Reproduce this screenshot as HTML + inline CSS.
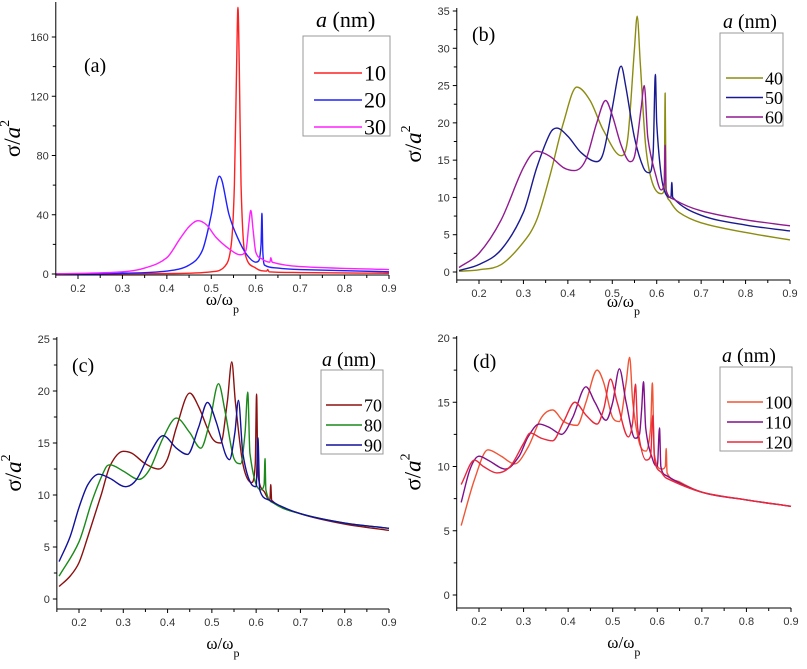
<!DOCTYPE html>
<html><head><meta charset="utf-8"><style>
html,body{margin:0;padding:0;background:#fff;}
svg{display:block;font-family:"Liberation Sans",sans-serif;}
.tk{font-size:11px;fill:#333;}
.ser{font-family:"Liberation Serif",serif;}
</style></head><body>
<svg id="fig" width="807" height="669" viewBox="0 0 807 669" xmlns="http://www.w3.org/2000/svg"></svg>
<script>
const xTickLabels=["0.2","0.3","0.4","0.5","0.6","0.7","0.8","0.9"];
const xTickValues=[0.2,0.3,0.4,0.5,0.6,0.7,0.8,0.9];
const yTicksA=[0,40,80,120,160];
const yTicksB=[0,5,10,15,20,25,30,35];
const yTicksC=[0,5,10,15,20,25];
const yTicksD=[0,5,10,15,20];
const labelsA=["10","20","30"];
const labelsB=["40","50","60"];
const labelsC=["70","80","90"];
const labelsD=["100","110","120"];
// panel a
const xa10=[0.15,0.4,0.5,0.53,0.545,0.552,0.557,0.56,0.563,0.567,0.575,0.6,0.625,0.627,0.63,0.7,0.9];
const ya10=[0,0.3,1.5,5,20,60,140,180,140,60,15,4,2,3,1.5,1,0.5];
const xa20=[0.15,0.3,0.4,0.45,0.48,0.5,0.51,0.518,0.525,0.54,0.56,0.58,0.6,0.607,0.612,0.614,0.616,0.62,0.65,0.7,0.9];
const ya20=[0,0.5,2,6,16,40,58,66,62,40,24,13,8,9,20,41,15,6,4,3,1.5];
const xa30=[0.15,0.3,0.35,0.4,0.43,0.45,0.47,0.49,0.51,0.54,0.565,0.578,0.585,0.589,0.594,0.6,0.615,0.632,0.634,0.637,0.7,0.9];
const ya30=[0,1.5,4,11,24,32,36,33,25,17,13,16,35,43,30,15,10,8,11,8,5,3];
// panel b
const xb40=[0.155,0.2,0.25,0.3,0.33,0.36,0.39,0.42,0.45,0.48,0.52,0.535,0.55,0.556,0.563,0.575,0.59,0.61,0.617,0.619,0.621,0.63,0.65,0.7,0.8,0.9];
const yb40=[0.1,0.3,1,4,7,13,20,24.8,23,19,15.6,18,30,34.3,28,17,12,10.5,11,24,11,9.5,8,6.6,5.3,4.3];
const xb50=[0.155,0.2,0.25,0.3,0.33,0.36,0.375,0.4,0.43,0.465,0.48,0.5,0.515,0.52,0.53,0.55,0.57,0.583,0.592,0.597,0.6,0.61,0.62,0.632,0.634,0.636,0.7,0.8,0.9];
const yb50=[0.2,1,3,8,14,18.6,19.3,18.2,16,14.8,16,22,27,27.6,25,18,14,13.3,16,26.5,20,13,10.5,10,12,10,7.6,6.3,5.5];
const xb60=[0.155,0.2,0.25,0.3,0.33,0.36,0.39,0.415,0.44,0.465,0.485,0.5,0.52,0.54,0.55,0.565,0.572,0.58,0.6,0.61,0.617,0.619,0.621,0.64,0.7,0.8,0.9];
const yb60=[0.6,2.5,7,14,16.2,15.5,14,13.6,15,20,23,21,17,14.8,15.5,22,25,18,12.5,11,12,17,11,9.7,8.2,7,6.2];
// panel c
const xc70=[0.155,0.18,0.2,0.22,0.25,0.27,0.3,0.32,0.35,0.38,0.4,0.42,0.45,0.47,0.5,0.52,0.535,0.545,0.553,0.57,0.59,0.598,0.601,0.604,0.62,0.631,0.633,0.635,0.7,0.8,0.9];
const yc70=[1.2,2.2,3.5,6,10,12.8,14.2,14,13,12.5,13.5,16.5,19.8,18.5,15.5,15,19,22.8,19,13,11.2,13,19.7,12,10.2,9.5,11,9.5,8.2,7.2,6.6];
const xc80=[0.155,0.2,0.23,0.26,0.27,0.3,0.335,0.36,0.39,0.42,0.45,0.475,0.495,0.515,0.53,0.55,0.565,0.575,0.581,0.586,0.61,0.618,0.62,0.622,0.64,0.7,0.8,0.9];
const yc80=[2.2,5.5,9.5,12.6,12.9,12.3,11.5,12.5,15.5,17.4,16,14.5,17,20.7,18,13.5,13,16,19.9,14,10.5,11,13.5,10.5,9.2,8.2,7.3,6.8];
const xc90=[0.155,0.18,0.2,0.22,0.245,0.27,0.305,0.33,0.36,0.39,0.42,0.445,0.47,0.49,0.51,0.53,0.54,0.552,0.56,0.57,0.59,0.6,0.604,0.608,0.63,0.7,0.8,0.9];
const yc90=[3.6,6,8.8,11,12,11.6,10.8,11.5,14,15.7,14.5,13.9,16.5,18.9,17,14,13.4,16,19.1,14,11,10.8,15.5,10.5,9.5,8.2,7.3,6.8];
// panel d
const xd100=[0.16,0.19,0.22,0.25,0.28,0.31,0.34,0.365,0.39,0.42,0.44,0.465,0.48,0.5,0.515,0.53,0.538,0.545,0.56,0.575,0.585,0.589,0.593,0.61,0.618,0.62,0.622,0.65,0.7,0.8,0.9];
const yd100=[5.4,9,11.3,10.8,10.2,11.5,13.8,14.4,13.5,13.2,15,17.5,16.5,13.8,13.5,16.5,18.5,15,11.8,11.2,13,16.5,11,9.8,10,11.4,9.5,8.8,8,7.4,6.9];
const xd110=[0.16,0.18,0.2,0.22,0.26,0.29,0.31,0.335,0.36,0.385,0.41,0.44,0.46,0.485,0.5,0.515,0.53,0.55,0.56,0.565,0.569,0.574,0.59,0.6,0.605,0.608,0.62,0.7,0.8,0.9];
const yd110=[7.2,9.8,10.8,10.5,9.8,10.8,12.3,13.3,13,12.5,13.8,16.2,15,13.6,15,17.6,15,12.2,12.5,14.5,16.6,13,10.5,10,13,10,9.3,8,7.4,6.9];
const xd120=[0.16,0.19,0.21,0.24,0.27,0.3,0.315,0.34,0.365,0.39,0.415,0.44,0.465,0.48,0.495,0.51,0.535,0.545,0.551,0.556,0.575,0.585,0.59,0.594,0.61,0.62,0.7,0.8,0.9];
const yd120=[8.6,10.5,10,9.5,10,11.8,12.6,12.2,12,13.5,15,14,13.3,14.5,16.8,15,12.3,13.5,16.4,13,10.5,10.8,14,10.5,9.5,9.1,8,7.4,6.9];

const NS="http://www.w3.org/2000/svg";
const svg=document.getElementById('fig');
function mk(tag,attrs,parent){const e=document.createElementNS(NS,tag);for(const k in attrs)e.setAttribute(k,attrs[k]);(parent||svg).appendChild(e);return e;}
function smoothPath(px,py){
  const n=px.length;if(n<2)return '';
  const d=[],m=new Array(n);
  for(let i=0;i<n-1;i++)d.push((py[i+1]-py[i])/(px[i+1]-px[i]));
  m[0]=d[0];m[n-1]=d[n-2];
  for(let i=1;i<n-1;i++){
    if(d[i-1]*d[i]<=0){m[i]=0;continue;}
    let s=(py[i+1]-py[i-1])/(px[i+1]-px[i-1]);
    const lim=3*Math.min(Math.abs(d[i-1]),Math.abs(d[i]));
    if(Math.abs(s)>lim)s=Math.sign(s)*lim;
    m[i]=s;
  }
  let p='M'+px[0].toFixed(2)+','+py[0].toFixed(2);
  for(let i=0;i<n-1;i++){const h=(px[i+1]-px[i])/3;p+=' C'+(px[i]+h).toFixed(2)+','+(py[i]+m[i]*h).toFixed(2)+' '+(px[i+1]-h).toFixed(2)+','+(py[i+1]-m[i+1]*h).toFixed(2)+' '+px[i+1].toFixed(2)+','+py[i+1].toFixed(2);}
  return p;
}
function panel(cfg){
  const g=mk('g',{});
  
  
  const sx=v=>cfg.x02+(v-0.2)*(cfg.x09-cfg.x02)/0.7;
  const sy=v=>cfg.y0+(v-0)*(cfg.yt-cfg.y0)/(cfg.yTicks[cfg.yTicks.length-1]);
  const left=sx(0.15);
  cfg.series.forEach((s,i)=>{
    const px=s.x.map(sx),py=s.y.map(v=>Math.max(cfg.top,sy(v)));
    const p=mk('path',{d:smoothPath(px,py),fill:'none',stroke:s.c,'stroke-width':1.4,'stroke-linejoin':'round'},g);
    
    
  });
  const ax=mk('g',{stroke:'#000','stroke-width':1},g);
  
  
  mk('line',{x1:left,y1:cfg.top,x2:left,y2:cfg.bot},ax);
  mk('line',{x1:left,y1:cfg.bot,x2:sx(0.9),y2:cfg.bot},ax);
  for(let v=0.15;v<=0.901;v+=0.05){const major=Math.abs(v*10-Math.round(v*10))<0.01;mk('line',{x1:sx(v),y1:cfg.bot,x2:sx(v),y2:cfg.bot+(major?4:3)},ax);}
  const yt=cfg.yTicks,step=yt[1]-yt[0];
  for(let v=0;v<=yt[yt.length-1]+1e-9;v+=step/2){const major=Math.abs(v/step-Math.round(v/step))<0.01;mk('line',{x1:left,y1:sy(v),x2:left-(major?4:3),y2:sy(v)},ax);}
  xTickValues.forEach((v,i)=>{const t=mk('text',{x:sx(v),y:cfg.bot+17,'text-anchor':'middle',class:'tk'},g);t.textContent=xTickLabels[i];
    
    });
  yt.forEach(v=>{const t=mk('text',{x:left-7,y:sy(v)+4,'text-anchor':'end',class:'tk'},g);t.textContent=String(v);
    
    });
  const xt=mk('text',{x:(left+sx(0.9))/2,y:cfg.bot+cfg.xtOff,'text-anchor':'middle',class:'ser','font-size':17},g);
  xt.innerHTML='ω/ω<tspan font-size="12" dy="8">p</tspan>';
  
  
  const ytT=mk('text',{transform:'translate('+(left-36)+','+((cfg.top+cfg.bot)/2)+') rotate(-90)','text-anchor':'middle',class:'ser','font-size':23},g);
  ytT.innerHTML='σ/<tspan font-style="italic">a</tspan><tspan font-size="14" dy="-11">2</tspan>';
  
  
  const pl=mk('text',{x:cfg.plx,y:cfg.ply,class:'ser','font-size':20},g);
  pl.textContent='('+cfg.id+')';
  
  
  const L=cfg.leg;
  const lg=mk('g',{},g);
  
  
  const lt=mk('text',{x:L.tx,y:L.ty,class:'ser','font-size':L.tfs},lg);
  lt.innerHTML='<tspan font-style="italic">a</tspan> (nm)';
  
  
  mk('rect',{x:L.x,y:L.y,width:L.w,height:L.h,fill:'#fff',stroke:'#999','stroke-width':1},lg);
  cfg.series.forEach((s,i)=>{
    const ey=L.e0+i*L.de;
    const e=mk('g',{},lg);
    
    
    mk('line',{x1:L.lx1,y1:ey,x2:L.lx2,y2:ey,stroke:s.c,'stroke-width':1.6},e);
    const t=mk('text',{x:L.lx2+2,y:ey+L.fs*0.35,class:'ser','font-size':L.fs},e);t.textContent=cfg.labels[i];
  });
}
panel({id:'a',x02:78,x09:389,y0:274,yt:37,top:2,bot:275,yTicks:yTicksA,labels:labelsA,xtOff:30,plx:84,ply:72,
  series:[{x:xa10,y:ya10,c:'#ff2020'},{x:xa20,y:ya20,c:'#2020ff'},{x:xa30,y:ya30,c:'#ff20ff'}],
  leg:{tx:316,ty:27,tfs:22,x:303,y:36,w:87,h:100,e0:73,de:27,lx1:314,lx2:362,fs:22}});
panel({id:'b',x02:479,x09:790,y0:272,yt:11,top:8,bot:280,yTicks:yTicksB,labels:labelsB,xtOff:27,plx:472,ply:41,
  series:[{x:xb40,y:yb40,c:'#8c8c10'},{x:xb50,y:yb50,c:'#1a1a90'},{x:xb60,y:yb60,c:'#901a90'}],
  leg:{tx:723,ty:28,tfs:20,x:720,y:33,w:63,h:93,e0:78,de:19.5,lx1:726,lx2:763,fs:18}});
panel({id:'c',x02:79,x09:389,y0:599,yt:339,top:337,bot:609,yTicks:yTicksC,labels:labelsC,xtOff:40,plx:72,ply:372,
  series:[{x:xc70,y:yc70,c:'#8b1010'},{x:xc80,y:yc80,c:'#1a8a1a'},{x:xc90,y:yc90,c:'#10109a'}],
  leg:{tx:322,ty:366,tfs:20,x:321,y:370,w:62,h:84,e0:405,de:20,lx1:326,lx2:362,fs:18}});
panel({id:'d',x02:479,x09:791,y0:595,yt:338,top:336,bot:608,yTicks:yTicksD,labels:labelsD,xtOff:40,plx:473,ply:368,
  series:[{x:xd100,y:yd100,c:'#f05535'},{x:xd110,y:yd110,c:'#80108a'},{x:xd120,y:yd120,c:'#e8283a'}],
  leg:{tx:722,ty:362,tfs:20,x:720,y:367,w:72,h:84,e0:402,de:20,lx1:727,lx2:763,fs:18}});
</script>
</body></html>
